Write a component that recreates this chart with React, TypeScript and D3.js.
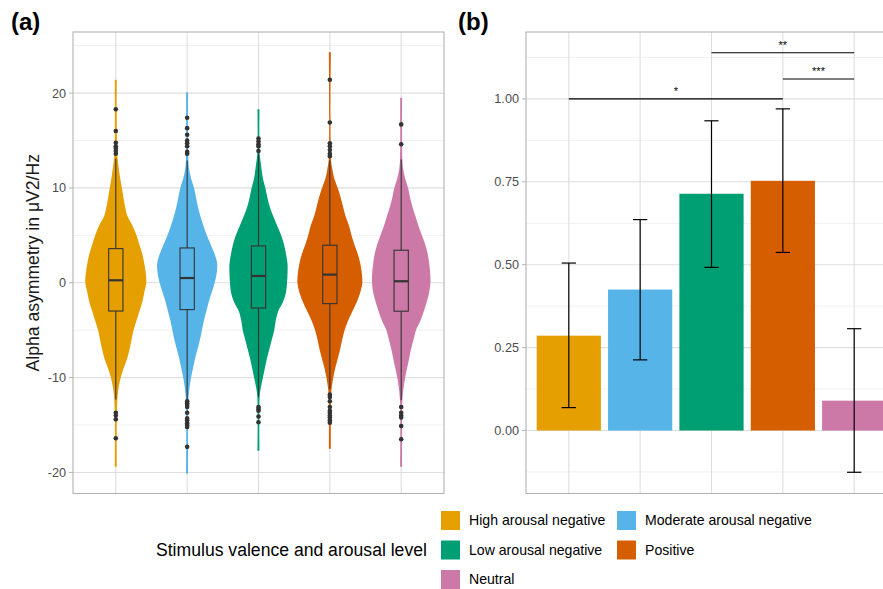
import * as d3 from "d3";

// categories, in legend/axis order
const categories = [
  "High arousal negative",
  "Moderate arousal negative",
  "Low arousal negative",
  "Positive",
  "Neutral",
];
const colors = ["#E69F00", "#56B4E9", "#009E73", "#D55E00", "#CC79A7"];

// (a) violin density profiles: [value, relative density]
const violinHigh = [[-19.4,1],[-14,1],[-12,1.8],[-11,3],[-10,5],[-9,8],[-8,11.5],[-7,14],[-6,16],[-5,18],[-4,21],[-3,24],[-2,27],[-1,29],[0,31],[1,30.5],[2,29],[3,27],[4,24],[5,21],[6,17],[7,12],[8,9.5],[9.5,7],[11,4.5],[12.5,2.5],[13.5,1.5],[16,1],[21.4,1]];
const violinModerate = [[-20.1,1],[-13,1],[-12,1.5],[-11,2.5],[-10,4],[-9,6],[-8,8],[-7,10.5],[-6,13],[-5,15],[-4,17],[-3,19.5],[-2,22],[-1,25],[0,28],[1,30],[2,30.5],[3,28],[4,24],[5,20],[6,16.5],[7,13.5],[8,11],[9,9],[10,7],[11,4],[12,2],[13,1.2],[20.1,1]];
const violinLow = [[-17.7,1],[-12,1.2],[-11,2.5],[-10,4.5],[-9,6.5],[-8,8.5],[-7,11],[-6,13.5],[-5,16],[-4,17.5],[-3,20],[-2,25],[-1,28],[0,29],[1,29.5],[2,29.5],[3,28],[4,26],[5,23],[6,19],[7,15],[8,11.5],[9,9],[10,7],[11,4.5],[12.5,2.5],[13.6,1.2],[18.3,1]];
const violinPositive = [[-17.5,1],[-12,1.2],[-11,2],[-10,3.5],[-9,5.5],[-8,8],[-7,10.5],[-6,12.5],[-5,15],[-4,18.5],[-3,23],[-2,27.5],[-1,31],[0,33],[1,32.5],[2,31],[3,28.5],[4,25],[5,22],[6,19.5],[7,16],[8,13.5],[9,11],[10,8],[11,4.5],[12,2.5],[13,1.2],[24.3,1]];
const violinNeutral = [[-19.4,1],[-13,1],[-12,1.5],[-11,2.5],[-10,4],[-9,6],[-8,8],[-7,10],[-6,12.5],[-5,15],[-4,19.5],[-3,23],[-2,26],[-1,28.5],[0,29.7],[1,29.5],[2,28.5],[3,27],[4,24.5],[5,21],[6,17.5],[7,14.5],[8,11.5],[9,9],[10,7],[11,4],[12,2],[13,1.2],[19.5,1]];
const violins = [violinHigh, violinModerate, violinLow, violinPositive, violinNeutral];

// (a) boxplot statistics
const q1 = [-2.98, -2.83, -2.66, -2.2, -3.0];
const medians = [0.26, 0.5, 0.72, 0.86, 0.16];
const q3 = [3.6, 3.67, 3.88, 3.96, 3.43];
const whiskerLow = [-12.3, -12.4, -12.05, -11.2, -12.4];
const whiskerHigh = [13.1, 12.9, 13.6, 12.9, 13.0];
const outliers = [
  [18.3, 16.0, 14.76, 14.4, 14.2, 13.9, 13.6, -13.7, -14.0, -14.4, -16.4],
  [17.4, 16.3, 15.6, 15.0, 14.7, 14.4, 13.8, 13.6, -12.5, -12.7, -12.9, -13.1, -13.7, -14.3, -14.5, -14.8, -15.0, -15.2, -17.3],
  [15.2, 14.9, 14.6, 14.4, 13.9, -13.1, -13.3, -13.5, -14.1, -14.7],
  [21.4, 16.9, 14.7, 14.4, 14.0, 13.6, 13.35, -11.8, -12.05, -12.5, -13.1, -13.5, -13.7, -14.0, -14.2, -14.5, -14.75],
  [16.7, 14.6, -13.1, -13.7, -14.0, -14.2, -15.1, -16.5],
];
const yTicksA = [-20, -10, 0, 10, 20];

// (b) means with confidence intervals
const means = [0.286, 0.425, 0.714, 0.753, 0.09];
const ciLow = [0.069, 0.213, 0.492, 0.537, -0.126];
const ciHigh = [0.505, 0.636, 0.934, 0.97, 0.307];
const yTicksB = [0, 0.25, 0.5, 0.75, 1.0];
const compFrom = [0, 2, 3];
const compTo = [3, 4, 4];
const compY = [1.0, 1.139, 1.06];
const compLabel = ["*", "**", "***"];

const W = 883;
const H = 589;
const font = "'Liberation Sans', Arial, Helvetica, sans-serif";
const top = 32;
const bottom = 493.5;
const aL = 73, aR = 444;
const bL = 526, bR = 897;
const border = "#b3b3b3";
const gridMajor = "#dedede";
const gridMinor = "#ececec";
const tickText = "#4d4d4d";

const xA = d3.scalePoint<string>().domain(categories).range([aL, aR]).padding(0.6);
const xB = d3.scalePoint<string>().domain(categories).range([bL, bR]).padding(0.6);
const yA = d3.scaleLinear().domain([-22.22, 26.44]).range([bottom, top]);
const yB = d3.scaleLinear().domain([-0.19, 1.2018]).range([bottom, top]);
const step = xA.step();
const maxDens = d3.max(violins.flat(), (d) => d[1]) as number;
const wScale = d3.scaleLinear().domain([0, maxDens]).range([0, 0.455 * step]);

function midpoints(t: number[]) {
  const s = t[1] - t[0];
  const out: number[] = [];
  for (let v = t[0] - s / 2; v <= t[t.length - 1] + s * 1.5; v += s) out.push(v);
  return out;
}

const Panel = ({ left, right, y, ticks, fmt }: any) => {
  const [d0, d1] = y.domain();
  const minor = midpoints(ticks).filter((v) => v > d0 && v < d1);
  return (
    <g>
      {minor.map((v: number) => (
        <line key={"m" + v} x1={left} x2={right} y1={y(v)} y2={y(v)} stroke={gridMinor} strokeWidth={0.8} />
      ))}
      {ticks.map((v: number) => (
        <line key={"g" + v} x1={left} x2={right} y1={y(v)} y2={y(v)} stroke={gridMajor} strokeWidth={1.1} />
      ))}
      {categories.map((c) => {
        const x = (left === aL ? xA : xB)(c) as number;
        return <line key={c} x1={x} x2={x} y1={top} y2={bottom} stroke={gridMajor} strokeWidth={1.1} />;
      })}
      {ticks.map((v: number) => (
        <g key={"t" + v}>
          <line x1={left - 4} x2={left} y1={y(v)} y2={y(v)} stroke={border} strokeWidth={1} />
          <text x={left - 7} y={y(v)} dy="0.35em" textAnchor="end" fontSize={12.7} fill={tickText}>
            {fmt(v)}
          </text>
        </g>
      ))}
    </g>
  );
};

const App = () => {
  const area = d3
    .area<number[]>()
    .y((d) => yA(d[0]))
    .curve(d3.curveCatmullRom);

  return (
    <svg
      width={W}
      height={H}
      style={{ position: "absolute", left: 0, top: 0, background: "#fff" }}
      fontFamily={font}
    >
      {/* panel (a) */}
      <Panel left={aL} right={aR} y={yA} ticks={yTicksA} fmt={(v: number) => String(v)} />
      {categories.map((c, i) => {
        const cx = xA(c) as number;
        const bw = 0.1 * step;
        const a = area.x0((d) => cx - Math.max(1, wScale(d[1]))).x1((d) => cx + Math.max(1, wScale(d[1])));
        return (
          <g key={c}>
            <path d={a(violins[i]) || ""} fill={colors[i]} />
            <line x1={cx} x2={cx} y1={yA(q3[i])} y2={yA(whiskerHigh[i])} stroke="#333" strokeWidth={1.1} />
            <line x1={cx} x2={cx} y1={yA(q1[i])} y2={yA(whiskerLow[i])} stroke="#333" strokeWidth={1.1} />
            <rect x={cx - bw} width={2 * bw} y={yA(q3[i])} height={yA(q1[i]) - yA(q3[i])} fill="none" stroke="#333" strokeWidth={1.1} />
            <line x1={cx - bw} x2={cx + bw} y1={yA(medians[i])} y2={yA(medians[i])} stroke="#333" strokeWidth={2.2} />
            {outliers[i].map((v, j) => (
              <circle key={j} cx={cx} cy={yA(v)} r={2.3} fill="#333" />
            ))}
          </g>
        );
      })}
      <rect x={aL} y={top} width={aR - aL} height={bottom - top} fill="none" stroke={border} strokeWidth={1.1} />
      <text
        transform={`translate(39,${(top + bottom) / 2}) rotate(-90)`}
        textAnchor="middle"
        fontSize={17.6}
        fill="#1a1a1a"
      >
        Alpha asymmetry in μV2/Hz
      </text>
      <text x={11} y={30} fontSize={24} fontWeight="bold" fill="#000">(a)</text>

      {/* panel (b) */}
      <Panel left={bL} right={bR} y={yB} ticks={yTicksB} fmt={(v: number) => d3.format(".2f")(v)} />
      {categories.map((c, i) => {
        const cx = xB(c) as number;
        const half = 0.45 * step;
        const cap = 0.1 * step;
        return (
          <g key={c}>
            <rect
              x={cx - half}
              width={2 * half}
              y={Math.min(yB(means[i]), yB(0))}
              height={Math.abs(yB(0) - yB(means[i]))}
              fill={colors[i]}
            />
            <line x1={cx} x2={cx} y1={yB(ciLow[i])} y2={yB(ciHigh[i])} stroke="#000" strokeWidth={1.2} />
            <line x1={cx - cap} x2={cx + cap} y1={yB(ciLow[i])} y2={yB(ciLow[i])} stroke="#000" strokeWidth={1.2} />
            <line x1={cx - cap} x2={cx + cap} y1={yB(ciHigh[i])} y2={yB(ciHigh[i])} stroke="#000" strokeWidth={1.2} />
          </g>
        );
      })}
      {compLabel.map((lab, k) => {
        const x1 = xB(categories[compFrom[k]]) as number;
        const x2 = xB(categories[compTo[k]]) as number;
        const yy = yB(compY[k]);
        return (
          <g key={lab}>
            <line x1={x1} x2={x2} y1={yy} y2={yy} stroke="#000" strokeWidth={1.1} />
            <text x={(x1 + x2) / 2} y={yy - 4} textAnchor="middle" fontSize={11} fill="#000">
              {lab}
            </text>
          </g>
        );
      })}
      <rect x={bL} y={top} width={bR - bL} height={bottom - top} fill="none" stroke={border} strokeWidth={1.1} />
      <text x={458} y={30} fontSize={24} fontWeight="bold" fill="#000">(b)</text>

      {/* legend */}
      <text x={156} y={556} fontSize={17.6} fill="#000">Stimulus valence and arousal level</text>
      {categories.map((c, i) => {
        const col = i % 2;
        const row = Math.floor(i / 2);
        const kx = 441 + col * 176;
        const ky = 511 + row * 29.5;
        return (
          <g key={c}>
            <rect x={kx} y={ky} width={19} height={19} fill={colors[i]} />
            <text x={kx + 28} y={ky + 9.5} dy="0.35em" fontSize={14.1} fill="#000">
              {c}
            </text>
          </g>
        );
      })}
    </svg>
  );
};

export default App;
